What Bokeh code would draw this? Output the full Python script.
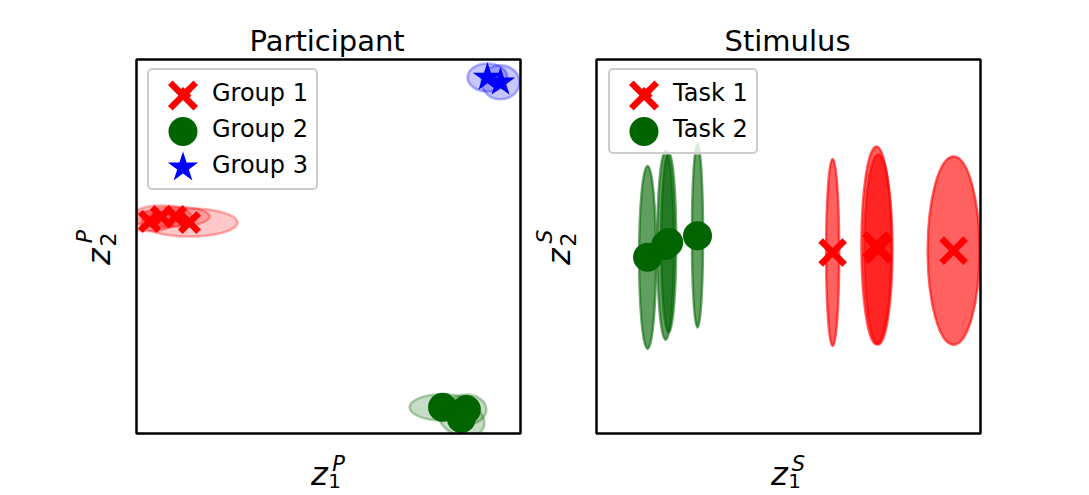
import math
from bokeh.plotting import figure
from bokeh.models import Legend, LegendItem, Label, Range1d, BoxAnnotation
from bokeh.layouts import row
from bokeh.embed import file_html
from bokeh.resources import INLINE

# ---------------- data (latent coordinates, arbitrary units, box = 0..10) ----------------
# Participant space: means and ellipse extents (full width / height)
group1_x = [0.34, 0.65, 1.02, 1.38]
group1_y = [5.67, 5.80, 5.80, 5.64]
group1_w = [1.30, 1.56, 1.77, 2.50]
group1_h = [0.53, 0.59, 0.53, 0.75]

group2_x = [7.97, 8.59, 8.46]
group2_y = [0.70, 0.64, 0.40]
group2_w = [1.72, 1.04, 1.25]
group2_h = [0.70, 0.80, 0.91]
group2_a = [0.0, 0.0, -0.4]

group3_x = [9.14, 9.48]
group3_y = [9.52, 9.39]
group3_w = [1.04, 0.99]
group3_h = [0.75, 0.91]

# Stimulus space
task1_x = [6.15, 7.29, 7.34, 9.30]
task1_y = [4.84, 5.03, 4.92, 4.89]
task1_w = [0.34, 0.78, 0.73, 1.35]
task1_h = [5.00, 5.29, 5.08, 5.03]

task2_x = [1.33, 1.80, 1.88, 2.63]
task2_y = [4.71, 5.03, 5.11, 5.29]
task2_w = [0.44, 0.44, 0.39, 0.29]
task2_h = [4.89, 5.05, 4.81, 4.92]

participant_labels = ["Group 1", "Group 2", "Group 3"]
stimulus_labels = ["Task 1", "Task 2"]

# ---------------- styling / layout ----------------
FONT = "DejaVu Sans"
RED, GREEN, BLUE = "#ff0000", "#006400", "#0000ff"
PAGE_H = 495
FRAME_TOP = 57            # canvas px where plotting frame starts (title above)
BOX_TOP = 59              # canvas px of the visible axes box top
BOX_W, BOX_H = 384, 374
SX, SY = BOX_W / 10.0, BOX_H / 10.0
BELOW = PAGE_H - BOX_TOP - BOX_H   # px under the box


def make_fig(title, L, W, title_left):
    p = figure(width=W, height=PAGE_H,
               x_range=Range1d(-L / SX, (W - L) / SX),
               y_range=Range1d(-BELOW / SY, 10 + (BOX_TOP - FRAME_TOP) / SY),
               x_axis_location=None, y_axis_location=None,
               output_backend="svg", toolbar_location=None, title=title,
               min_border_left=0, min_border_right=0,
               min_border_top=FRAME_TOP, min_border_bottom=0)
    p.grid.visible = False
    p.outline_line_color = None
    p.background_fill_color = "white"
    p.border_fill_color = "white"
    p.title.align = "left"
    p.title.offset = title_left
    p.title.text_font = FONT
    p.title.text_font_size = "29px"
    p.title.text_font_style = "normal"
    p.title.text_color = "black"
    p.title.standoff = 0
    return p


def finish_box(p):
    xs, xe = p.x_range.start, p.x_range.end
    ys, ye = p.y_range.start, p.y_range.end
    # white masks so that marks are clipped at the axes box
    p.quad(left=[xs, 10, 0, 0], right=[0, xe, 10, 10],
           bottom=[ys, ys, ys, 10], top=[ye, ye, 0, ye],
           fill_color="white", line_color=None)
    p.add_layout(BoxAnnotation(left=0, right=10, bottom=0, top=10,
                               fill_alpha=0, line_color="black", line_width=2.5,
                               line_alpha=1.0))


def math_label(p, L, sub, sup, horizontal):
    if horizontal:
        specs = [("z", L + 183, BELOW - 40, "32px", "italic"),
                 (sub, L + 198, BELOW - 47, "20px", "normal"),
                 (sup, L + 202, BELOW - 30, "21px", "italic")]
        angle = 0.0
    else:
        specs = [("z", L - 38, BELOW + 177, "32px", "italic"),
                 (sub, L - 29, BELOW + 194, "22px", "normal"),
                 (sup, L - 52, BELOW + 197, "22px", "italic")]
        angle = math.pi / 2
    for t, x, y, fs, st in specs:
        p.add_layout(Label(x=x, y=y, x_units="screen", y_units="screen", text=t,
                           text_font=FONT, text_font_size=fs, text_font_style=st,
                           text_align="center", text_baseline="alphabetic",
                           angle=angle, text_color="black"))


def add_legend(p, L, entries, left_px, top_px, text_w):
    pad, gh, gw, sp = 8, 30, 55, 6
    n = len(entries)
    leg_h = 2 * pad + n * gh + (n - 1) * sp
    leg_w = 2 * pad + gw + text_w
    # semi-transparent backdrop (fades marks under the legend)
    p.quad(left=[left_px / SX], right=[(left_px + leg_w) / SX],
           top=[10 - top_px / SY], bottom=[10 - (top_px + leg_h) / SY],
           fill_color="white", fill_alpha=0.8, line_color=None)
    # full-size legend icons
    for i, (_, _, style) in enumerate(entries):
        sx = left_px + pad + gw / 2
        sy = top_px + pad + i * (gh + sp) + gh / 2
        p.scatter([sx / SX], [10 - sy / SY], **style)
    items = [LegendItem(label=lab, renderers=[r]) for lab, r, _ in entries]
    leg = Legend(items=items,
                 location=(L + left_px, PAGE_H - (BOX_TOP + top_px + leg_h)),
                 padding=pad, margin=0, spacing=sp, glyph_width=gw, glyph_height=gh,
                 label_standoff=0, label_text_font=FONT, label_text_font_size="24px",
                 label_text_color="black", border_line_color="#cccccc",
                 border_line_width=2.5, border_line_alpha=1.0,
                 background_fill_alpha=0.0)
    if "border_radius" in Legend.properties():
        leg.border_radius = 5
    p.add_layout(leg)


x_style = dict(marker="x", size=36, line_color=RED, line_width=6.5)
o_style = dict(marker="circle", size=29, fill_color=GREEN, line_color=GREEN, line_width=0)
s_style = dict(marker="star", size=32, fill_color=BLUE, line_color=BLUE, line_width=0)

# ---------------- Participant panel ----------------
L1, W1 = 136, 524
p1 = make_fig("Participant", L1, W1, 249)
p1.ellipse(x=group1_x, y=group1_y, width=group1_w, height=group1_h,
           fill_color=RED, fill_alpha=0.22, line_color=RED, line_alpha=0.3, line_width=2.5)
p1.ellipse(x=group2_x, y=group2_y, width=group2_w, height=group2_h, angle=group2_a,
           fill_color=GREEN, fill_alpha=0.22, line_color=GREEN, line_alpha=0.3, line_width=2.5)
p1.ellipse(x=group3_x, y=group3_y, width=group3_w, height=group3_h,
           fill_color=BLUE, fill_alpha=0.22, line_color=BLUE, line_alpha=0.3, line_width=2.5)
r_g1 = p1.scatter(group1_x, group1_y, marker="x", size=26, line_color=RED, line_width=6.5)
r_g2 = p1.scatter(group2_x, group2_y, **o_style)
r_g3 = p1.scatter(group3_x, group3_y, marker="star", size=31, fill_color=BLUE,
                  line_color=BLUE, line_width=0)
finish_box(p1)
add_legend(p1, L1, [(participant_labels[0], r_g1, x_style),
                    (participant_labels[1], r_g2, o_style),
                    (participant_labels[2], r_g3, s_style)], 11, 13, 104)
math_label(p1, L1, "1", "P", True)
math_label(p1, L1, "2", "P", False)

# ---------------- Stimulus panel ----------------
L2, W2 = 72, 565
p2 = make_fig("Stimulus", L2, W2, 200)
p2.ellipse(x=task2_x, y=task2_y, width=task2_w, height=task2_h,
           fill_color=GREEN, fill_alpha=0.62, line_color=GREEN, line_alpha=0.55, line_width=2.5)
p2.ellipse(x=task1_x, y=task1_y, width=task1_w, height=task1_h,
           fill_color=RED, fill_alpha=0.62, line_color=RED, line_alpha=0.6, line_width=2.5)
r_t1 = p2.scatter(task1_x, task1_y, marker="x", size=34, line_color=RED, line_width=6.5)
r_t2 = p2.scatter(task2_x, task2_y, **o_style)
finish_box(p2)
add_legend(p2, L2, [(stimulus_labels[0], r_t1, x_style),
                    (stimulus_labels[1], r_t2, o_style)], 12, 13, 86)
math_label(p2, L2, "1", "S", True)
math_label(p2, L2, "2", "S", False)

layout = row(p1, p2, spacing=0)
open("out.html", "w").write(file_html(layout, INLINE))
